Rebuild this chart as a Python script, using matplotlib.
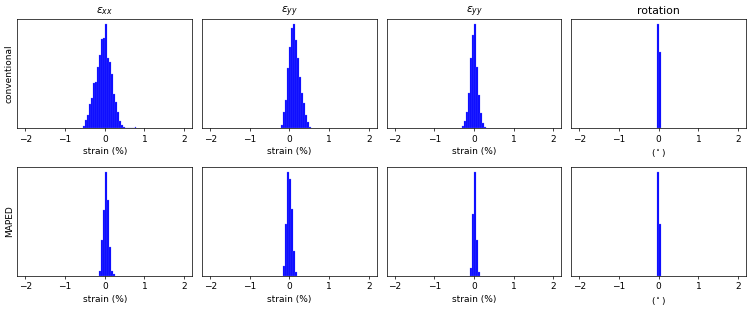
import numpy as np
import matplotlib
matplotlib.use('Agg')
import matplotlib.pyplot as plt

# histogram counts per panel, bin width 0.05 on the -2..2 grid
bin_width = 0.05

titles = [r'$\varepsilon_{xx}$', r'$\varepsilon_{yy}$', r'$\varepsilon_{yy}$', 'rotation']
xlabels = ['strain (%)', 'strain (%)', 'strain (%)', r'($^\circ$)']
row_labels = ['conventional', 'MAPED']

# conventional row: (first bin left edge, counts)
conv_exx_start = -0.55
conv_exx_counts = [8, 24, 40, 72, 90, 135, 140, 185, 220, 268, 270, 312, 212, 200,
                   162, 102, 78, 48, 22, 10, 3, 0, 0, 0, 0, 0, 3]
conv_eyy_start = -0.20
conv_eyy_counts = [10, 50, 85, 180, 245, 302, 312, 265, 210, 155, 105, 75, 40, 20, 5]
conv_eyy2_start = -0.30
conv_eyy2_counts = [8, 22, 50, 105, 210, 280, 312, 185, 100, 45, 15, 5]
conv_rot_start = -0.05
conv_rot_counts = [311, 228]

# MAPED row
maped_exx_start = -0.15
maped_exx_counts = [15, 109, 197, 312, 227, 87, 15, 5]
maped_eyy_start = -0.15
maped_eyy_counts = [29, 155, 312, 292, 202, 74, 12]
maped_eyy2_start = -0.10
maped_eyy2_counts = [24, 187, 312, 107, 12]
maped_rot_start = -0.05
maped_rot_counts = [312, 155]

rows = [
    [(conv_exx_start, conv_exx_counts), (conv_eyy_start, conv_eyy_counts),
     (conv_eyy2_start, conv_eyy2_counts), (conv_rot_start, conv_rot_counts)],
    [(maped_exx_start, maped_exx_counts), (maped_eyy_start, maped_eyy_counts),
     (maped_eyy2_start, maped_eyy2_counts), (maped_rot_start, maped_rot_counts)],
]

fig, axes = plt.subplots(2, 4, figsize=(754 / 65, 309 / 65), dpi=65)
fig.subplots_adjust(left=0.0232, right=0.9894, bottom=0.1068, top=0.9385,
                    wspace=0.058, hspace=0.35)

for r, row in enumerate(rows):
    for c, (start, counts) in enumerate(row):
        ax = axes[r, c]
        counts = np.array(counts)
        lefts = start + bin_width * np.arange(len(counts))
        ax.bar(lefts, counts, width=bin_width, align='edge', color='blue',
               edgecolor='#7070ff', linewidth=0.3)
        ax.set_xlim(-2.2, 2.2)
        ax.set_yticks([])
        ax.set_xlabel(xlabels[c])
        if r == 0:
            ax.set_title(titles[c])
        if c == 0:
            ax.set_ylabel(row_labels[r])

plt.savefig('out.png', dpi=65)
plt.close()
